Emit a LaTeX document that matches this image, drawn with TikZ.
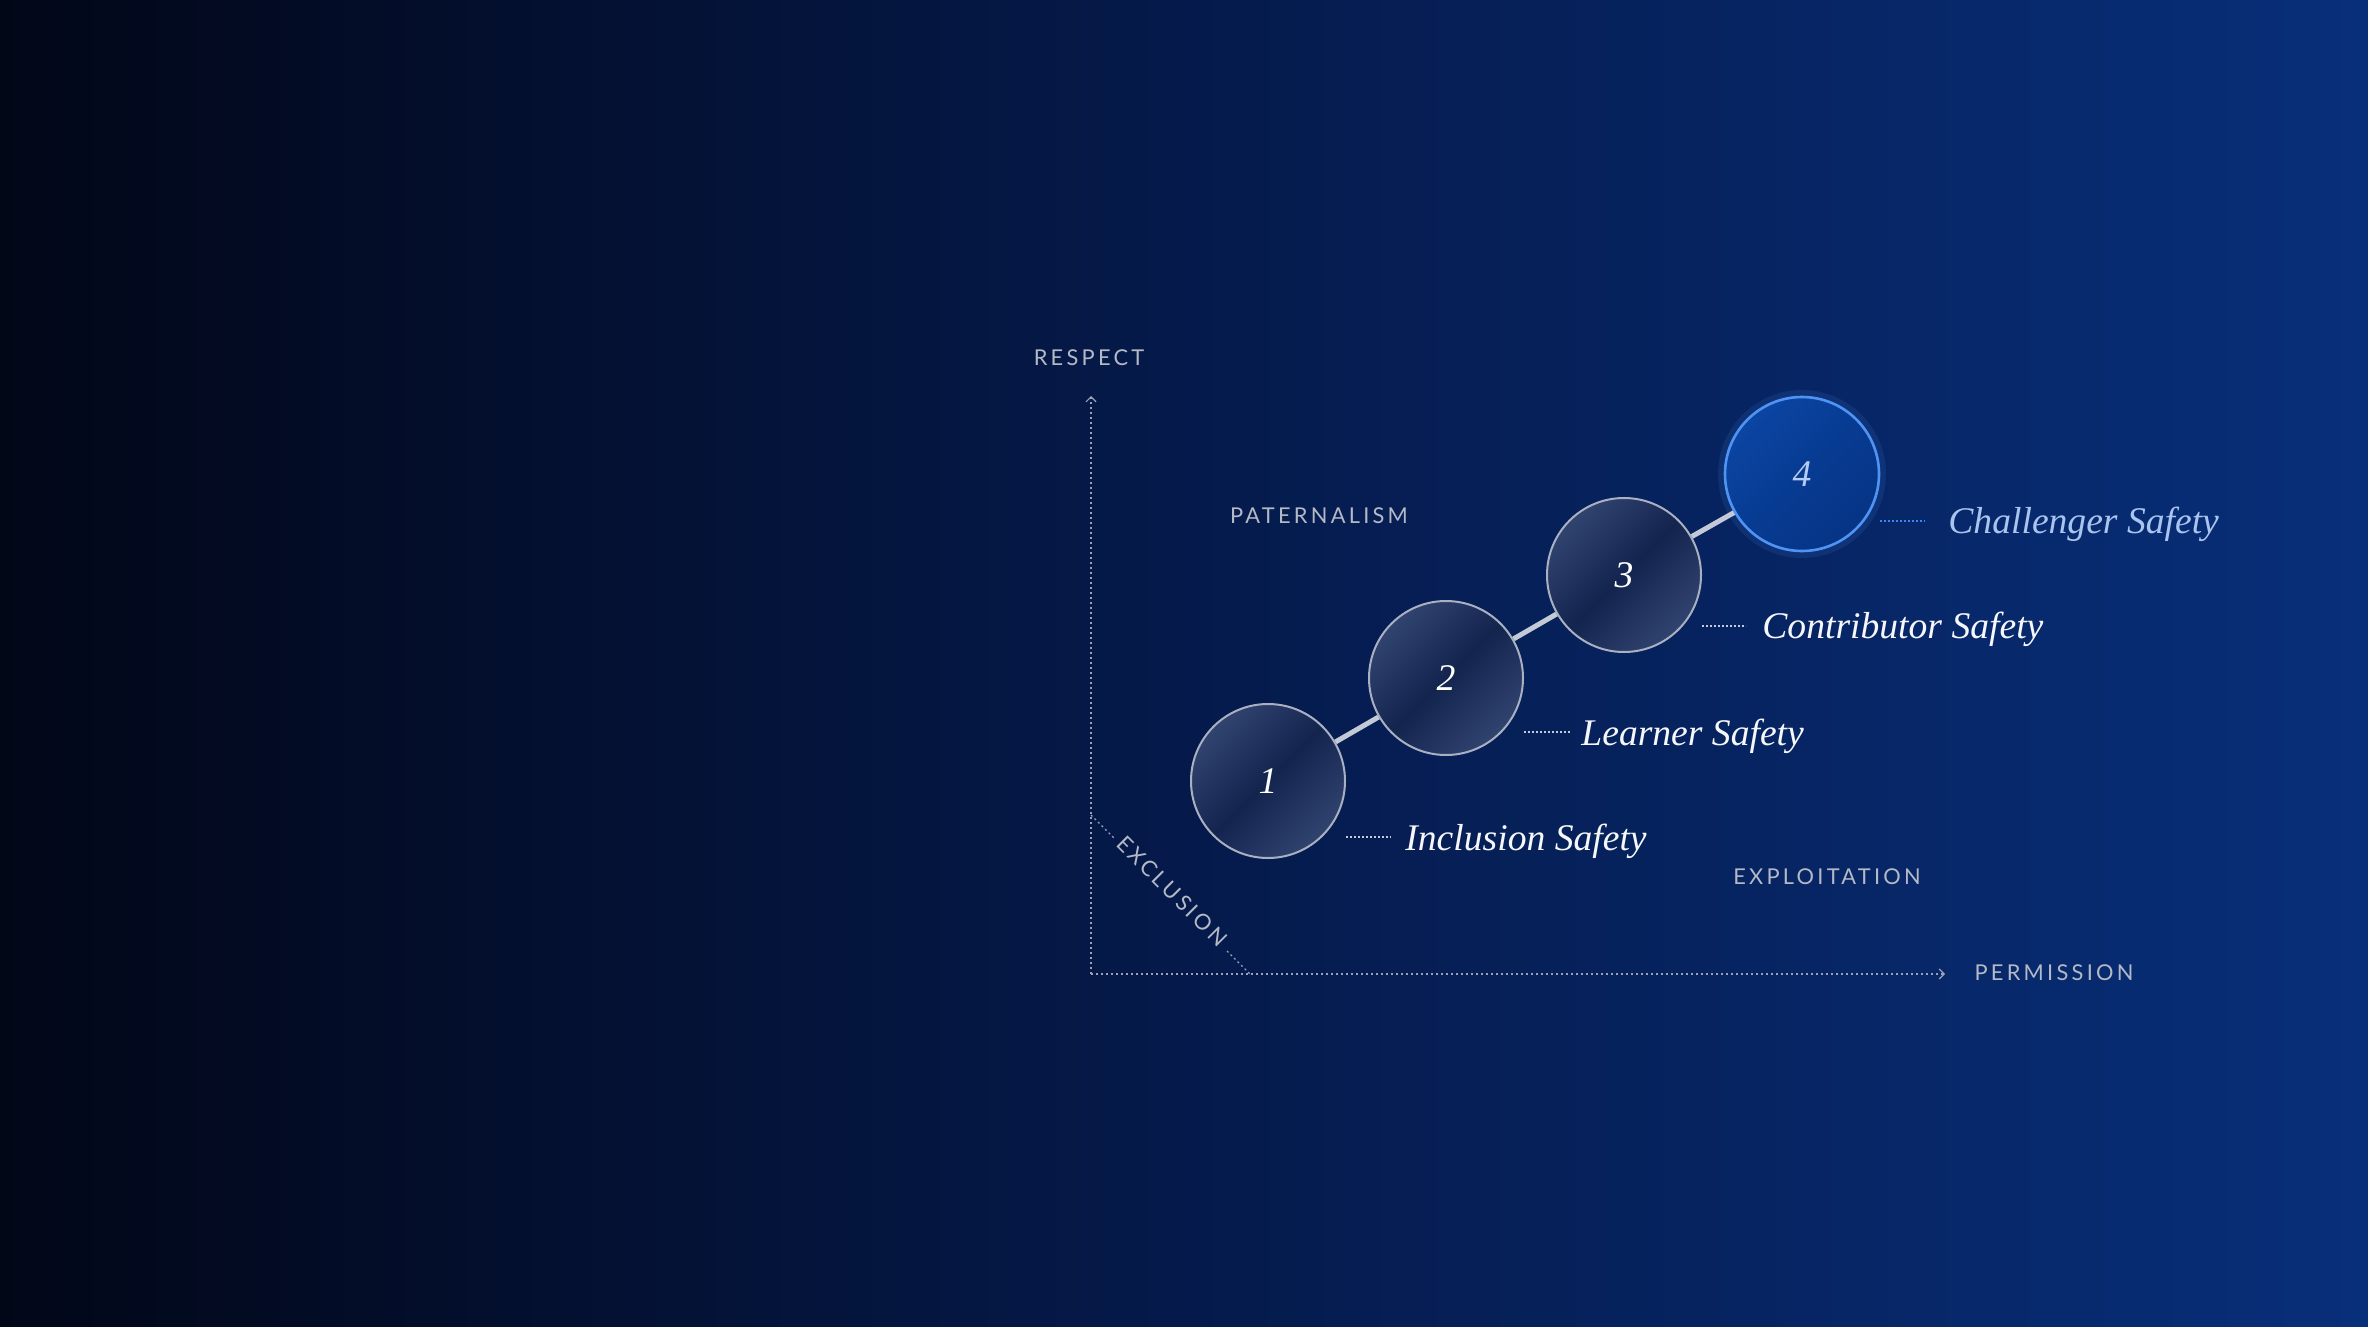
\documentclass[tikz,border=0pt]{standalone}
\usepackage{fontspec}
\setmainfont{Liberation Serif}
\newfontfamily\capsfont[LetterSpace=15]{Lato}
\usetikzlibrary{arrows.meta,shadings}
\definecolor{bgL}{HTML}{020718}
\definecolor{bgM}{HTML}{051A4B}
\definecolor{bgR}{HTML}{082F7A}
\definecolor{axisc}{HTML}{9AA3B8}
\definecolor{capc}{HTML}{B4B9C6}
\definecolor{ringc}{HTML}{A9B0C2}
\definecolor{circA}{HTML}{31436F}
\definecolor{circB}{HTML}{13244F}
\definecolor{ring4}{HTML}{4F93F5}
\definecolor{c4a}{HTML}{0B45A2}
\definecolor{c4b}{HTML}{063485}
\definecolor{c4m}{HTML}{073B92}
\definecolor{num4}{HTML}{B4CCF2}
\definecolor{linkc}{HTML}{C3C9D7}
\definecolor{leadc}{HTML}{C4CAD8}
\definecolor{lead4}{HTML}{3F84F0}
\definecolor{labc}{HTML}{F5F7FB}
\definecolor{lab4}{HTML}{A9C4EE}
\begin{document}
\begin{tikzpicture}[x=0.5pt,y=-0.5pt,
  axisline/.style={draw=axisc, line width=0.6pt, dash pattern=on 1pt off 1.5pt},
  capslabel/.style={text=capc, font=\capsfont\fontsize{10.9}{13}\selectfont, inner sep=0},
  stage/.style={circle, minimum size=77pt, inner sep=0, line width=1pt, draw=ringc,
    top color=circA, bottom color=circA, middle color=circB, shading angle=45,
    text=white, font=\itshape\fontsize{18.8}{22}\selectfont},
  stagehi/.style={stage, draw=ring4, line width=1.3pt, top color=c4a, bottom color=c4b,
    middle color=c4m, shading angle=45, text=num4},
  link/.style={draw=linkc, line width=2.5pt},
  leader/.style={draw=leadc, line width=0.9pt, dash pattern=on 0.9pt off 1.1pt},
  safety/.style={anchor=base west, inner sep=0, text=labc, font=\itshape\fontsize{18.8}{22}\selectfont}
]
\useasboundingbox (0,0) rectangle (2368,1327);
\fill[left color=bgL, right color=bgR, middle color=bgM] (0,0) rectangle (2368,1327);

% axes
\coordinate (O) at (1091,974);
\coordinate (Ytip) at (1091,396);
\coordinate (Xtip) at (1945,974);
\draw[axisline, -{Straight Barb[length=2.5pt,width=5pt]}] (O) -- (Ytip);
\draw[axisline, -{Straight Barb[length=2.5pt,width=5pt]}] (O) -- (Xtip);
\coordinate (E1) at (1091,815);
\coordinate (E1b) at (1114,838);
\coordinate (E2b) at (1227,951);
\coordinate (E2) at (1250,974);
\draw[axisline] (E1) -- (E1b);
\draw[axisline] (E2b) -- (E2);

% axis & region labels
\node[capslabel] (respect) at (1089,358) {RESPECT};
\node[capslabel] (pat) at (1319,516) {PATERNALISM};
\node[capslabel] (expl) at (1827,877) {EXPLOITATION};
\node[capslabel] (perm) at (2054,973) {PERMISSION};
\node[capslabel, rotate=-45] (excl) at (1172,891) {EXCLUSION};

% stages
\fill[ring4, opacity=0.12] (1802,474) circle (84);
\node[stage] (c1) at (1268,781) {1};
\node[stage] (c2) at (1446,678) {2};
\node[stage] (c3) at (1624,575) {3};
\node[stagehi] (c4) at (1802,474) {4};
\draw[link] (c1) -- (c2);
\draw[link] (c2) -- (c3);
\draw[link] (c3) -- (c4);

% leaders and labels
\coordinate (l1a) at (1346,837); \coordinate (l1b) at (1391,837);
\coordinate (l2a) at (1524,732); \coordinate (l2b) at (1570,732);
\coordinate (l3a) at (1702,626); \coordinate (l3b) at (1746,626);
\coordinate (l4a) at (1880,521); \coordinate (l4b) at (1925,521);
\draw[leader] (l1a) -- (l1b);
\draw[leader] (l2a) -- (l2b);
\draw[leader] (l3a) -- (l3b);
\draw[leader, draw=lead4] (l4a) -- (l4b);
\node[safety] (t1) at (1405,850) {Inclusion Safety};
\node[safety] (t2) at (1581,745) {Learner Safety};
\node[safety] (t3) at (1762,638) {Contributor Safety};
\node[safety, text=lab4] (t4) at (1948,533) {Challenger Safety};
\end{tikzpicture}
\end{document}
